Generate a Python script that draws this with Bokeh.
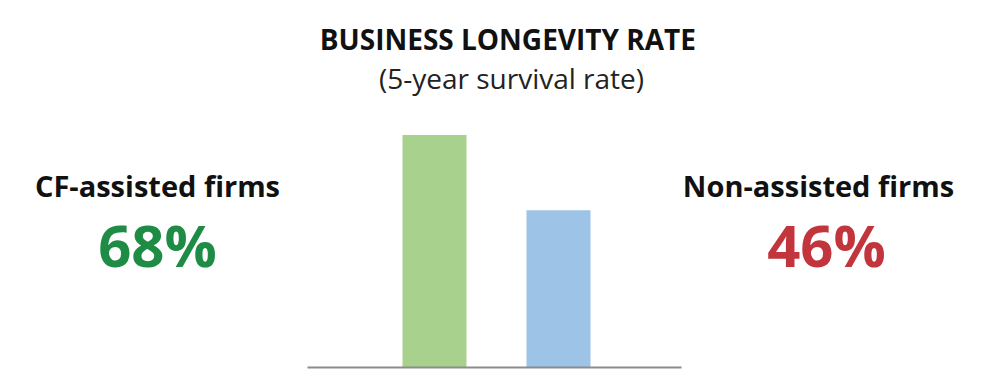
from bokeh.plotting import figure
from bokeh.models import Range1d, Label, ColumnDataSource
from bokeh.embed import file_html
from bokeh.resources import INLINE

# ---- data ----
title_text = "BUSINESS LONGEVITY  RATE"
subtitle_text = "(5-year survival rate)"
categories = ["CF-assisted firms", "Non-assisted firms"]
rates = [68, 46]
bar_colors = ["#a9d18e", "#9dc3e6"]
label_colors = ["#1e8c45", "#c2353c"]

W, H = 984, 372
ORIGIN = 0  # page offset of the canvas
X0_PX, DX_PX = 434.0, 124.0      # centre of first bar, bar spacing
BASE_PX, KY = 367.0, 3.419       # baseline, px per unit


def xd(px):
    return (px - X0_PX) / DX_PX


def yd(py):
    return (BASE_PX - py) / KY


p = figure(width=W, height=H, output_backend="svg", toolbar_location=None,
           x_range=Range1d(xd(ORIGIN), xd(ORIGIN + W)),
           y_range=Range1d(yd(ORIGIN + H), yd(ORIGIN)),
           min_border=0, min_border_left=0, min_border_right=0,
           min_border_top=0, min_border_bottom=0)
p.axis.visible = False
p.grid.visible = False
p.outline_line_color = None
p.background_fill_color = "white"
p.border_fill_color = "white"

src = ColumnDataSource(dict(x=list(range(len(categories))), top=rates,
                            color=bar_colors, name=categories))
p.vbar(x="x", top="top", bottom=0, width=64 / DX_PX, color="color",
       line_color=None, source=src)

# baseline (category axis line)
p.segment(x0=[xd(307)], y0=[0], x1=[xd(681)], y1=[0],
          line_color="#8c8c8c", line_width=2)

FONT = "Open Sans"


def add_text(txt, cx, by, size, color="#111111", style="bold"):
    p.add_layout(Label(x=xd(cx), y=yd(by - 0.36 * size), text=txt,
                       text_align="center", text_baseline="alphabetic",
                       text_font=FONT, text_font_size=f"{size}px",
                       text_font_style=style, text_color=color))


add_text(title_text, 511, 49, 28)
add_text(subtitle_text, 511, 88, 28, color="#222222", style="normal")

label_cx = [157, 818]
pct_cx = [157, 826]
for i, cat in enumerate(categories):
    add_text(cat, label_cx[i], 195, 29)
    add_text(f"{rates[i]}%", pct_cx[i], 265, 58, color=label_colors[i])

open("out.html", "w").write(file_html(p, INLINE))
